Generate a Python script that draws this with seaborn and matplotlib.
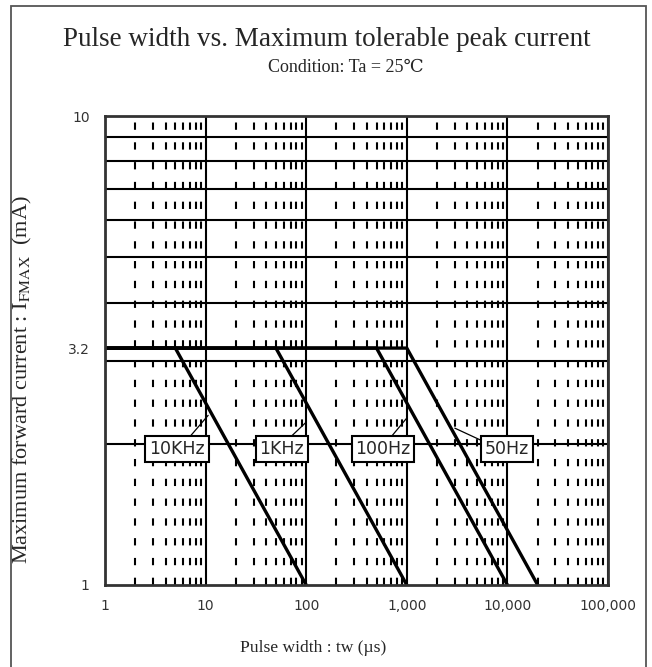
import numpy as np
import pandas as pd
import matplotlib
matplotlib.use("Agg")
import matplotlib.pyplot as plt
import matplotlib.ticker as mticker
from matplotlib.patches import Rectangle
import seaborn as sns

# Data
series = ["10KHz", "1KHz", "100Hz", "50Hz"]
x_start = [1, 1, 1, 1]
x_knee = [5, 50, 500, 1000]
x_end = [100, 1000, 10000, 20000]
i_max = 3.2
i_dc = 1.0

# label boxes (center) and leader end points
label_x = [5.2, 57, 580, 9900]
label_y = [1.95, 1.95, 1.95, 1.95]
leader_x = [10.6, 99, 1000, 3000]
leader_y = [2.30, 2.22, 2.27, 2.16]
leader_rel = [(0.68, 1.0), (0.63, 1.0), (0.6, 1.0), (0.03, 0.85)]

x_ticks = [1, 10, 100, 1000, 10000, 100000]
x_ticklabels = ["1", "10", "100", "1,000", "10,000", "100,000"]
y_ticks = [1, 3.2, 10]
y_ticklabels = ["1", "3.2", "10"]

rows = []
for s, a, k, e in zip(series, x_start, x_knee, x_end):
    rows += [(s, a, i_max), (s, k, i_max), (s, e, i_dc)]
df = pd.DataFrame(rows, columns=["series", "tw", "ifmax"])

sns.set_style("white")
plt.rcParams["mathtext.fontset"] = "stix"
serif = ["Liberation Serif", "DejaVu Serif"]

fig = plt.figure(figsize=(6.52, 6.67), dpi=100)
ax = fig.add_axes([105 / 652, 1 - 585 / 667, 503 / 652, 469 / 667])

ax.set_xscale("log")
ax.set_yscale("log")
ax.set_xlim(1, 100000)
ax.set_ylim(1, 10)

# grid
ax.xaxis.set_minor_locator(mticker.LogLocator(base=10, subs=np.arange(2, 10)))
ax.yaxis.set_minor_locator(mticker.FixedLocator(np.arange(2, 10)))
ax.grid(True, axis="x", which="major", color="black", lw=1.5, ls="-")
ax.grid(True, axis="x", which="minor", color="black", lw=1.5, ls=(0, (3.5, 6)))
ax.grid(True, axis="y", which="minor", color="black", lw=1.5, ls="-")
ax.grid(False, axis="y", which="major")
ax.set_axisbelow(True)

for s in series:
    sns.lineplot(data=df[df["series"] == s], x="tw", y="ifmax", ax=ax,
                 color="black", lw=2.4, sort=False, legend=False)

ax.set_xticks(x_ticks)
ax.set_xticklabels(x_ticklabels)
ax.set_yticks(y_ticks)
ax.set_yticklabels(y_ticklabels)
ax.xaxis.set_minor_formatter(mticker.NullFormatter())
ax.yaxis.set_minor_formatter(mticker.NullFormatter())
ax.tick_params(which="both", length=0)
ax.tick_params(axis="x", pad=10, labelsize=10, labelcolor="#333333")
ax.tick_params(axis="y", pad=11, labelsize=10, labelcolor="#333333")

for sp in ax.spines.values():
    sp.set_color("#333333")
    sp.set_linewidth(2)

for s, lx, ly, ex, ey, rp in zip(series, label_x, label_y, leader_x, leader_y, leader_rel):
    ax.annotate(s, xy=(ex, ey), xytext=(lx, ly), textcoords="data",
                ha="center", va="center", fontsize=12.5, family="DejaVu Sans",
                bbox=dict(boxstyle="square,pad=0.22", fc="white", ec="black", lw=1.5),
                arrowprops=dict(arrowstyle="-", color="black", lw=0.9,
                                relpos=rp, shrinkA=0, shrinkB=0))

ax.set_xlabel("")
ax.set_ylabel("")
fig.text(313 / 652, 1 - 648 / 667, "Pulse width : tw (µs)", ha="center", va="center",
         fontsize=12.6, family=serif)
fig.text(22 / 652, 1 - 380 / 667, r"Maximum forward current : I$_{\mathrm{FMAX}}$  (mA)",
         ha="center", va="center", rotation=90, fontsize=16, family=serif)
fig.text(327 / 652, 1 - 40 / 667, "Pulse width vs. Maximum tolerable peak current",
         ha="center", va="center", fontsize=19.5, family=serif)
fig.text(346 / 652, 1 - 67 / 667, "Condition: Ta = 25℃", ha="center", va="center",
         fontsize=13, family=serif)

# outer frame
fig.patches.append(Rectangle((10.5 / 652, -0.02), 635.5 / 652, 1.02 - 5.5 / 667,
                             transform=fig.transFigure, fill=False,
                             ec="#555555", lw=1.3))

fig.savefig("out.png", dpi=100)
